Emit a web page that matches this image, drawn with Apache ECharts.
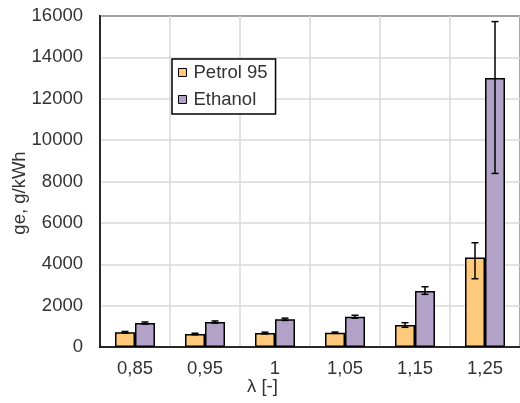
<!DOCTYPE html>
<html><head><meta charset="utf-8">
<script src="https://cdn.jsdelivr.net/npm/echarts@6/dist/echarts.min.js"></script>
<style>html,body{margin:0;padding:0;background:#fff}#c{width:520px;height:403px}</style>
</head><body><div id="c"></div>
<script>
const categories = ['0,85', '0,95', '1', '1,05', '1,15', '1,25'];
const petrol = [710, 630, 676, 691, 1063, 4330];
const petrolLow = [670, 595, 636, 660, 952, 3300];
const petrolHigh = [750, 665, 716, 722, 1174, 5040];
const ethanol = [1160, 1210, 1340, 1465, 2705, 13000];
const ethanolLow = [1110, 1160, 1285, 1395, 2546, 8390];
const ethanolHigh = [1210, 1260, 1395, 1535, 2913, 15730];
const yTicks = [0, 2000, 4000, 6000, 8000, 10000, 12000, 14000, 16000];

const FONT = 'Liberation Sans, Arial, sans-serif';
const FS = 18.5;
const TXT = '#333';
const BW = 20;

function errSeries(low, high, offset) {
  return {
    type: 'custom',
    silent: true,
    z: 10,
    data: low.map((l, i) => [i, l, high[i]]),
    renderItem: function (params, api) {
      const i = api.value(0);
      const p1 = api.coord([i, api.value(1)]);
      const p2 = api.coord([i, api.value(2)]);
      const x = p1[0] + offset;
      const cap = 3.5;
      const st = { stroke: '#000', lineWidth: 1.5 };
      return { type: 'group', children: [
        { type: 'line', shape: { x1: x, y1: p1[1], x2: x, y2: p2[1] }, style: st },
        { type: 'line', shape: { x1: x - cap, y1: p1[1], x2: x + cap, y2: p1[1] }, style: st },
        { type: 'line', shape: { x1: x - cap, y1: p2[1], x2: x + cap, y2: p2[1] }, style: st }
      ]};
    }
  };
}

const chart = echarts.init(document.getElementById('c'));
chart.setOption({
  animation: false,
  textStyle: { fontFamily: FONT },
  grid: { left: 100, top: 16, width: 423, height: 331, show: true, borderColor: '#000', borderWidth: 1.8, backgroundColor: 'transparent' },
  legend: {
    left: 172, top: 59, orient: 'vertical',
    padding: [4, 8, 5, 6], itemGap: 8,
    itemWidth: 8, itemHeight: 8, icon: 'rect',
    borderColor: '#000', borderWidth: 1.5, backgroundColor: '#fff',
    textStyle: { fontSize: FS, color: TXT, fontFamily: FONT, padding: [0, 0, 0, 2] },
    itemStyle: { borderColor: '#000', borderWidth: 1 },
    data: ['Petrol 95', 'Ethanol']
  },
  xAxis: {
    type: 'category', data: categories,
    axisLine: { show: true, lineStyle: { color: '#000', width: 1.5 } },
    axisTick: { show: false },
    axisLabel: { fontSize: FS, color: TXT, margin: 12, fontFamily: FONT },
    splitLine: { show: true, lineStyle: { color: '#d9d9d9', width: 1.5 } }
  },
  yAxis: {
    type: 'value', min: 0, max: 16000, interval: 2000,
    axisLine: { show: true, lineStyle: { color: '#000', width: 1.5 } },
    axisTick: { show: false },
    axisLabel: { fontSize: FS, color: TXT, margin: 17, fontFamily: FONT,
      formatter: v => yTicks.includes(v) ? String(v) : '' },
    splitLine: { show: true, lineStyle: { color: '#d9d9d9', width: 1.5 } }
  },
  graphic: [
    { type: 'text', left: 247, top: 377, style: { text: 'λ [-]', font: FS + 'px ' + FONT, fill: TXT } },
    { type: 'text', x: 10, y: 193, rotation: Math.PI / 2, style: { text: 'ge, g/kWh', font: FS + 'px ' + FONT, fill: TXT, align: 'center', verticalAlign: 'top' } }
  ],
  series: [
    { name: 'Petrol 95', type: 'bar', data: petrol, barWidth: BW, barGap: 0,
      itemStyle: { color: '#FFC97B', borderColor: '#000', borderWidth: 1.5 } },
    { name: 'Ethanol', type: 'bar', data: ethanol, barWidth: BW, barGap: 0,
      itemStyle: { color: '#B2A2C7', borderColor: '#000', borderWidth: 1.5 } },
    errSeries(petrolLow, petrolHigh, -BW / 2),
    errSeries(ethanolLow, ethanolHigh, BW / 2)
  ]
});
</script></body></html>
